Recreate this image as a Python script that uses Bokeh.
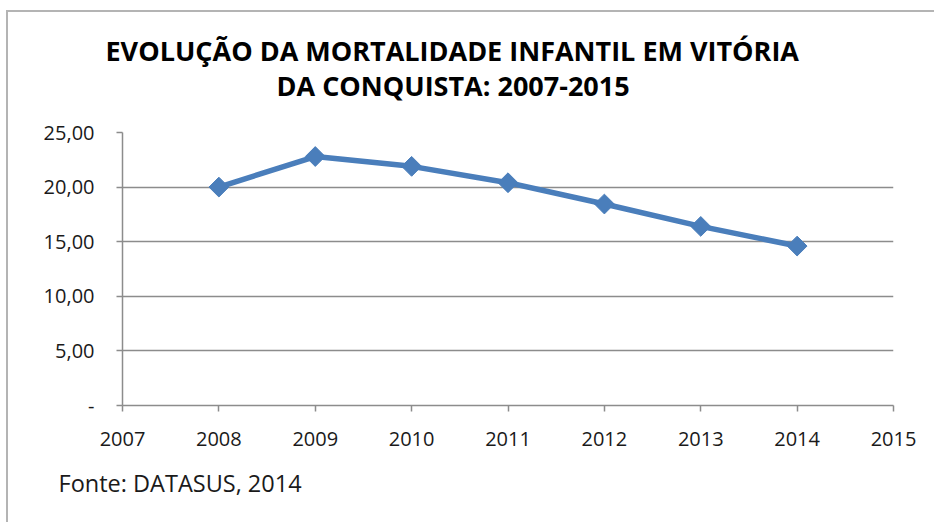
from bokeh.plotting import figure
from bokeh.models import Range1d, FixedTicker, Title, ColumnDataSource
from bokeh.embed import file_html
from bokeh.resources import INLINE
import math

years = [2008, 2009, 2010, 2011, 2012, 2013, 2014]
mortalidade = [20.0, 22.8, 21.9, 20.4, 18.45, 16.4, 14.6]
x_ticks = [2007, 2008, 2009, 2010, 2011, 2012, 2013, 2014, 2015]
y_ticks = [0, 5, 10, 15, 20, 25]
y_tick_labels = {0: "-", 5: "5,00", 10: "10,00", 15: "15,00", 20: "20,00", 25: "25,00"}
title_lines = ["EVOLUÇÃO DA MORTALIDADE INFANTIL EM VITÓRIA", "DA CONQUISTA: 2007-2015"]
source_note = "Fonte: DATASUS, 2014"

FONT = "Open Sans"
BLUE = "#4a7ebb"
GRID = "#8c8c8c"

p = figure(width=928, height=512, output_backend="svg", toolbar_location=None,
           x_range=Range1d(2007, 2015), y_range=Range1d(0, 25),
           min_border_left=114, min_border_right=43, min_border_top=120, min_border_bottom=119)
p.styles = {"border-top": "2px solid #b4b4b4", "border-left": "2px solid #b4b4b4",
            "margin-left": "6px", "margin-top": "10px"}
p.outline_line_color = None
p.background_fill_color = "white"
p.border_fill_color = "white"

src = ColumnDataSource(data=dict(x=years, y=mortalidade))
p.line("x", "y", source=src, line_color=BLUE, line_width=5.5)
p.scatter("x", "y", source=src, marker="square", size=14, angle=math.pi / 4,
          fill_color=BLUE, line_color=BLUE)

p.xaxis.ticker = FixedTicker(ticks=x_ticks)
p.yaxis.ticker = FixedTicker(ticks=y_ticks)
p.yaxis.major_label_overrides = {k: v for k, v in y_tick_labels.items()}
p.xaxis.minor_tick_line_color = None
p.yaxis.minor_tick_line_color = None
for ax in (p.xaxis, p.yaxis):
    ax.axis_line_color = GRID
    ax.axis_line_width = 1.5
    ax.major_tick_line_color = GRID
    ax.major_tick_line_width = 1.5
    ax.major_tick_in = 0
    ax.major_tick_out = 6
    ax.major_label_text_font = FONT
    ax.major_label_text_font_size = "20px"
    ax.major_label_text_color = "#1a1a1a"
p.yaxis.major_label_standoff = 22
p.xaxis.major_label_standoff = 20

p.xgrid.grid_line_color = None
p.ygrid.grid_line_color = GRID
p.ygrid.grid_line_width = 1.5

# title lines: nearest to the frame is added first
p.add_layout(Title(text=title_lines[1], align="left", offset=154, standoff=58,
                   text_font=FONT, text_font_style="bold", text_font_size="27px",
                   text_color="#000000"), "above")
p.add_layout(Title(text=title_lines[0], align="left", offset=-17, standoff=-66,
                   text_font=FONT, text_font_style="bold", text_font_size="27px",
                   text_color="#000000"), "above")

p.add_layout(Title(text=source_note, align="left", offset=-64, standoff=32,
                   text_font=FONT, text_font_style="normal", text_font_size="23.5px",
                   text_color="#1a1a1a"), "below")

open("out.html", "w").write(file_html(p, INLINE))
